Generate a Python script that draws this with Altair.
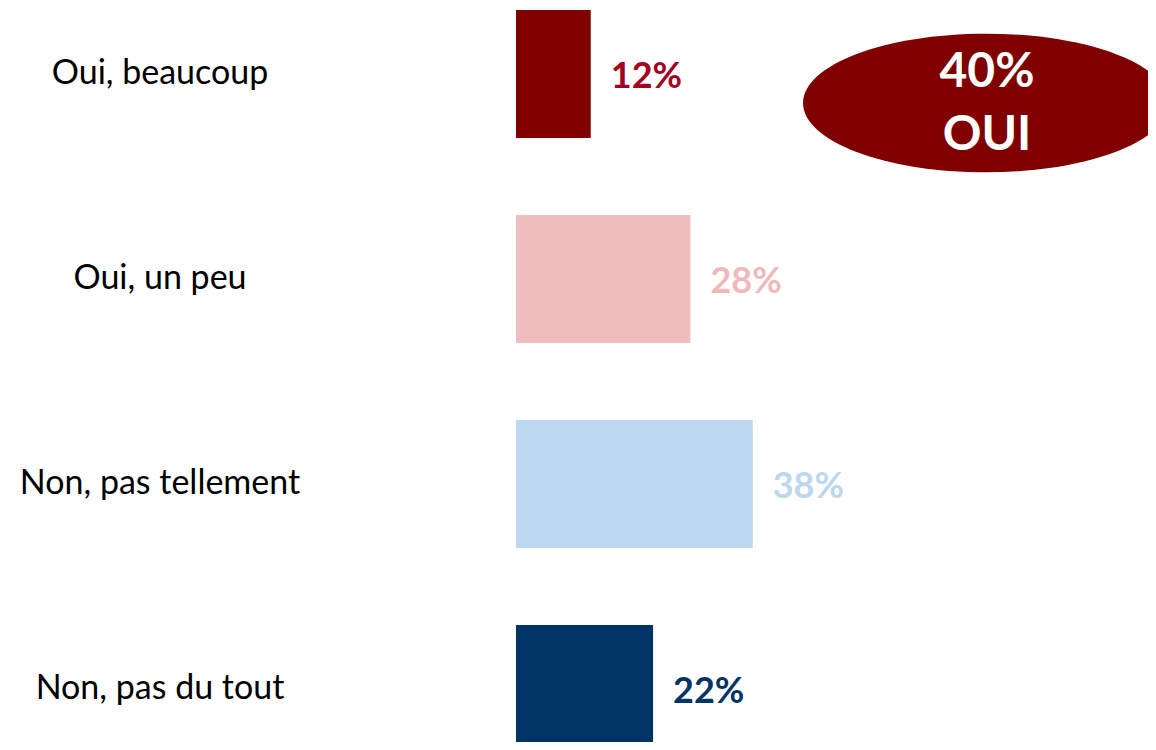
import altair as alt
import pandas as pd

categories = ["Oui, beaucoup", "Oui, un peu", "Non, pas tellement", "Non, pas du tout"]
values = [12, 28, 38, 22]
bar_colors = ["#800000", "#F0BEBE", "#BDD7EE", "#003366"]
label_colors = ["#A50021", "#F0B9B9", "#BDD7EE", "#003366"]
total_oui = values[0] + values[1]
badge_lines = [f"{total_oui}%", "OUI"]

df = pd.DataFrame({
    "cat": categories,
    "value": values,
    "bar_color": bar_colors,
    "label_color": label_colors,
    "label": [f"{v}%" for v in values],
})

FONT = "Lato"

x = alt.X("value:Q", scale=alt.Scale(domain=[0, 100], range=[508, 1131]), axis=None)
y = alt.Y("cat:N", sort=categories,
          scale=alt.Scale(range=[2, 745], paddingInner=0.376, paddingOuter=0),
          axis=None)

base = alt.Chart(df)

bars = base.mark_bar().encode(
    x=x, y=y, color=alt.Color("bar_color:N", scale=None)
)

vals = base.mark_text(align="left", baseline="middle", dx=20, dy=3, font=FONT,
                      fontWeight="bold", fontSize=36).encode(
    x=x, y=y, text="label:N", color=alt.Color("label_color:N", scale=None)
)

cats = base.mark_text(align="center", baseline="middle", font=FONT,
                      fontSize=34, color="#000000").encode(
    x=alt.value(152), y=y, text="cat:N"
)

badge_df = pd.DataFrame({"k": [0]})
ellipse = alt.Chart(badge_df).mark_point(
    shape="M -1 0 A 1 0.379 0 1 1 1 0 A 1 0.379 0 1 1 -1 0 Z",
    filled=True, color="#800000", opacity=1, size=366 * 366, strokeWidth=0,
).encode(x=alt.value(978), y=alt.value(95))

badge_text_df = pd.DataFrame({"t": badge_lines, "pos": [65, 128]})
badge_text = alt.Chart(badge_text_df).mark_text(
    align="center", baseline="middle", font=FONT, fontWeight="bold",
    fontSize=48, color="white"
).encode(x=alt.value(979), y=alt.Y("pos:Q", scale=None), text="t:N")

chart = alt.layer(bars, vals, cats, ellipse, badge_text).properties(
    width=1140, height=734, padding=0,
    autosize=alt.AutoSizeParams(type="none"),
).configure_view(stroke=None)

chart.save("out.html", embed_options={"renderer": "svg", "actions": False})
